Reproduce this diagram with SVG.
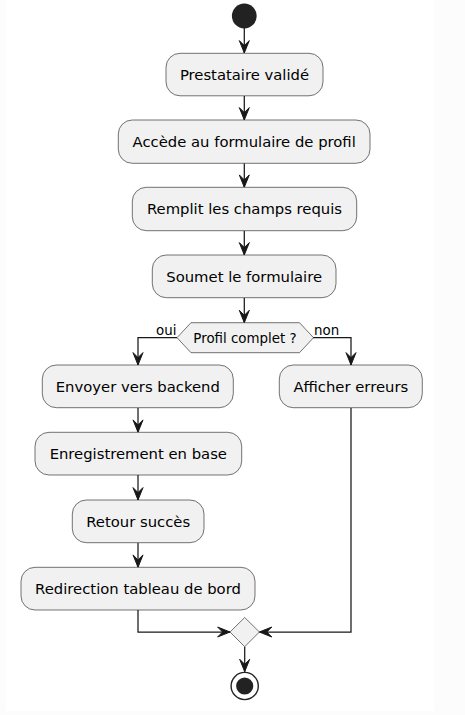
<svg xmlns="http://www.w3.org/2000/svg" width="465" height="715" viewBox="0 0 465 715">
<style>
.box{fill:#F1F1F1;stroke:#181818;stroke-width:0.6}
.t{font-family:"DejaVu Sans",sans-serif;font-size:14.8px;fill:#000;text-anchor:middle}
.s{font-family:"DejaVu Sans",sans-serif;font-size:13.4px;fill:#000}
.ln{fill:none;stroke:#181818;stroke-width:1.25}
.ah{fill:#181818;stroke:#181818;stroke-width:1}
</style>
<defs>
<path id="ad" d="M0,0 L-5,-12.4 L0,-7.4 L5,-12.4 Z"/>
</defs>
<rect x="0" y="0" width="465" height="715" fill="#fcfcfc"/>
<rect x="6" y="0" width="428" height="711" fill="#ffffff"/>

<g id="connectors">
<path class="ln" d="M244.3,28 V53"/>
<use href="#ad" class="ah" transform="translate(244.3,53)"/>
<path class="ln" d="M244.3,96 V120"/>
<use href="#ad" class="ah" transform="translate(244.3,120)"/>
<path class="ln" d="M244.3,163.3 V187.3"/>
<use href="#ad" class="ah" transform="translate(244.3,187.3)"/>
<path class="ln" d="M244.3,230.7 V255"/>
<use href="#ad" class="ah" transform="translate(244.3,255)"/>
<path class="ln" d="M244.3,297.7 V322.7"/>
<use href="#ad" class="ah" transform="translate(244.3,322.7)"/>
<path class="ln" d="M177,337.7 H138 V365"/>
<use href="#ad" class="ah" transform="translate(138,365)"/>
<path class="ln" d="M313,337.7 H351 V365"/>
<use href="#ad" class="ah" transform="translate(351,365)"/>
<path class="ln" d="M138,407.7 V432.3"/>
<use href="#ad" class="ah" transform="translate(138,432.3)"/>
<path class="ln" d="M138,475 V500"/>
<use href="#ad" class="ah" transform="translate(138,500)"/>
<path class="ln" d="M138,542.7 V567.3"/>
<use href="#ad" class="ah" transform="translate(138,567.3)"/>
<path class="ln" d="M138,610 V632 H230"/>
<use href="#ad" class="ah" transform="translate(230,632) rotate(-90)"/>
<path class="ln" d="M351,407.7 V632 H259.4"/>
<use href="#ad" class="ah" transform="translate(259.4,632) rotate(90)"/>
<path class="ln" d="M244.7,646.7 V671.7"/>
<use href="#ad" class="ah" transform="translate(244.7,671.7)"/>
<text class="s" x="156" y="335">oui</text>
<text class="s" x="314" y="335">non</text>
</g>

<g id="start"><circle cx="244.3" cy="16" r="12.4" fill="#222222"/></g>

<g id="n1"><rect class="box" x="166" y="53.3" width="157" height="42.5" rx="14"/><text class="t" x="244.5" y="80">Prestataire validé</text></g>
<g id="n2"><rect class="box" x="118.3" y="120" width="251.7" height="43.3" rx="14"/><text class="t" x="244.2" y="147">Accède au formulaire de profil</text></g>
<g id="n3"><rect class="box" x="132.3" y="187.3" width="224.4" height="43.4" rx="14"/><text class="t" x="244.5" y="214.3">Remplit les champs requis</text></g>
<g id="n4"><rect class="box" x="152.3" y="255" width="183.7" height="42.7" rx="14"/><text class="t" x="244.2" y="281.7">Soumet le formulaire</text></g>

<g id="decision"><path class="box" d="M177,337.7 L191,322.7 H299.5 L313.5,337.7 L299.5,352.7 H191 Z"/><text class="s" x="245" y="342.6" text-anchor="middle">Profil complet ?</text></g>

<g id="n5"><rect class="box" x="42.3" y="365" width="191" height="42.7" rx="14"/><text class="t" x="137.8" y="391.7">Envoyer vers backend</text></g>
<g id="n6"><rect class="box" x="279.3" y="365" width="143" height="42.7" rx="14"/><text class="t" x="350.8" y="391.7">Afficher erreurs</text></g>
<g id="n7"><rect class="box" x="35" y="432.3" width="206.7" height="42.7" rx="14"/><text class="t" x="138.3" y="459">Enregistrement en base</text></g>
<g id="n8"><rect class="box" x="72.3" y="500" width="131.7" height="42.7" rx="14"/><text class="t" x="138.2" y="526.7">Retour succès</text></g>
<g id="n9"><rect class="box" x="21" y="567.3" width="234" height="42.7" rx="14"/><text class="t" x="138" y="594">Redirection tableau de bord</text></g>

<g id="merge"><path class="box" d="M244.7,617.5 L259.4,632 L244.7,646.7 L230,632 Z"/></g>

<g id="end"><circle cx="244.7" cy="686" r="13.6" fill="none" stroke="#222222" stroke-width="1.4"/><circle cx="244.7" cy="686" r="8.6" fill="#222222"/></g>
</svg>
